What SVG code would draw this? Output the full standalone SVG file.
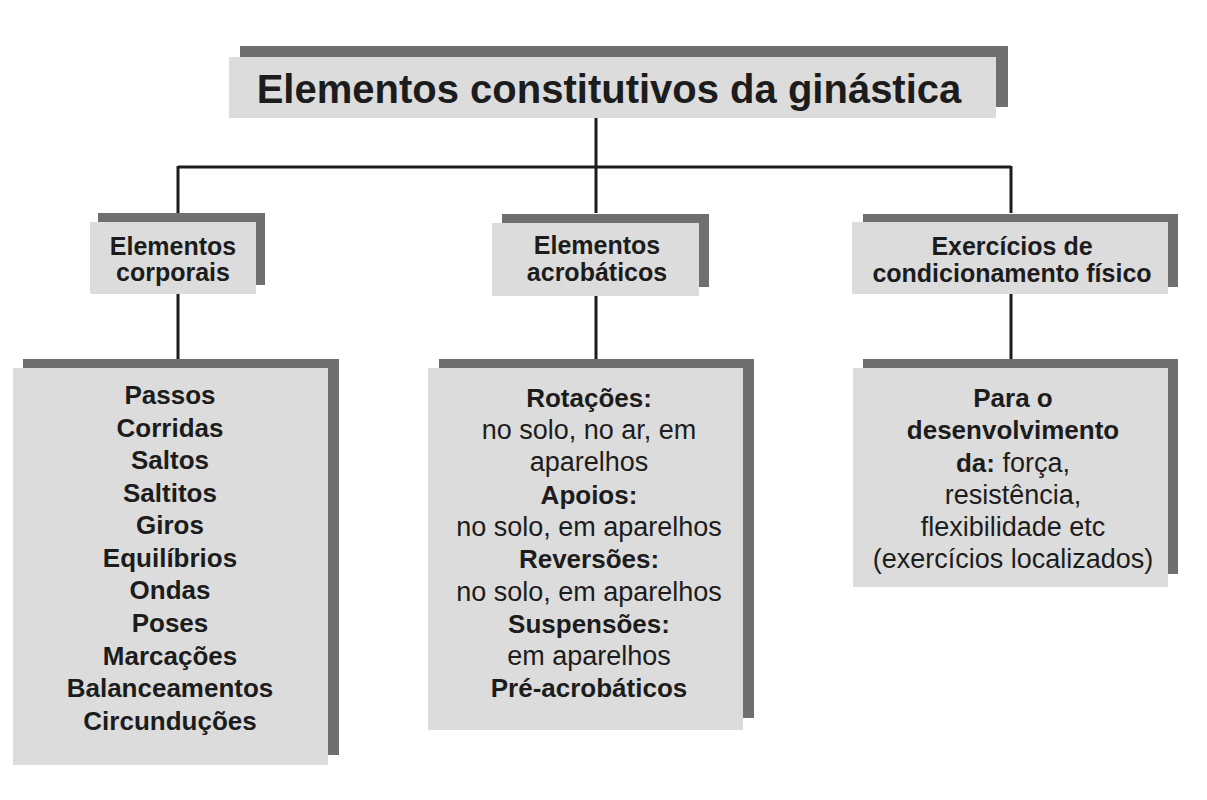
<svg xmlns="http://www.w3.org/2000/svg" width="1207" height="800" viewBox="0 0 1207 800">
<style>
.sh{fill:#6f6f6f}
.bx{fill:#dcdcdc}
.t{font-family:"Liberation Sans",Arial,sans-serif;fill:#1c1c1c;text-anchor:middle}
.b{font-weight:bold}
.ttl{font-size:40px}
.m{font-size:25px}
.n{font-size:26px}
.r{font-size:27px}
.ln{stroke:#1c1c1c;stroke-width:3;fill:none}
</style>
<rect width="1207" height="800" fill="#ffffff"/>
<g id="connectors">
<path class="ln" d="M596 117V167M178 167H1011M178 166V213M596 166V213M1011 166V213"/>
<path class="ln" d="M178 294V359M596 296V359M1011 294V359"/>
</g>
<g id="title">
<rect class="sh" x="240" y="46" width="768" height="61"/>
<rect class="bx" x="229" y="57" width="767" height="61"/>
<text class="t b ttl" x="609" y="103">Elementos constitutivos da ginástica</text>
</g>
<g id="elementos-corporais">
<rect class="sh" x="98" y="213" width="167" height="72"/>
<rect class="bx" x="90" y="222" width="166" height="72"/>
<text class="t b m" x="173" y="255">Elementos</text>
<text class="t b m" x="173" y="281">corporais</text>
</g>
<g id="elementos-acrobaticos">
<rect class="sh" x="502" y="214" width="207" height="73"/>
<rect class="bx" x="492" y="223" width="207" height="73"/>
<text class="t b m" x="597" y="254">Elementos</text>
<text class="t b m" x="597" y="281">acrobáticos</text>
</g>
<g id="exercicios-condicionamento">
<rect class="sh" x="863" y="214" width="315" height="73"/>
<rect class="bx" x="852" y="222" width="316" height="72"/>
<text class="t b m" x="1012" y="255">Exercícios de</text>
<text class="t b m" x="1012" y="282">condicionamento físico</text>
</g>
<g id="lista-corporais">
<rect class="sh" x="23" y="359" width="316" height="396"/>
<rect class="bx" x="13" y="368" width="315" height="397"/>
<text class="t b n" x="170" y="404">Passos</text>
<text class="t b n" x="170" y="437">Corridas</text>
<text class="t b n" x="170" y="469">Saltos</text>
<text class="t b n" x="170" y="502">Saltitos</text>
<text class="t b n" x="170" y="534">Giros</text>
<text class="t b n" x="170" y="567">Equilíbrios</text>
<text class="t b n" x="170" y="599">Ondas</text>
<text class="t b n" x="170" y="632">Poses</text>
<text class="t b n" x="170" y="665">Marcações</text>
<text class="t b n" x="170" y="697">Balanceamentos</text>
<text class="t b n" x="170" y="730">Circunduções</text>
</g>
<g id="lista-acrobaticos">
<rect class="sh" x="439" y="359" width="315" height="359"/>
<rect class="bx" x="428" y="368" width="315" height="362"/>
<text class="t b n" x="589" y="407">Rotações:</text>
<text class="t r" x="589" y="439">no solo, no ar, em</text>
<text class="t r" x="589" y="471">aparelhos</text>
<text class="t b n" x="589" y="504">Apoios:</text>
<text class="t r" x="589" y="536">no solo, em aparelhos</text>
<text class="t b n" x="589" y="568">Reversões:</text>
<text class="t r" x="589" y="601">no solo, em aparelhos</text>
<text class="t b n" x="589" y="633">Suspensões:</text>
<text class="t r" x="589" y="665">em aparelhos</text>
<text class="t b n" x="589" y="697">Pré-acrobáticos</text>
</g>
<g id="lista-condicionamento">
<rect class="sh" x="863" y="359" width="315" height="215"/>
<rect class="bx" x="853" y="368" width="315" height="219"/>
<text class="t b n" x="1013" y="407">Para o</text>
<text class="t b n" x="1013" y="439">desenvolvimento</text>
<text class="t r" x="1013" y="472"><tspan class="b n">da:</tspan> força,</text>
<text class="t r" x="1013" y="504">resistência,</text>
<text class="t r" x="1013" y="536">flexibilidade etc</text>
<text class="t r" x="1013" y="568">(exercícios localizados)</text>
</g>
</svg>
